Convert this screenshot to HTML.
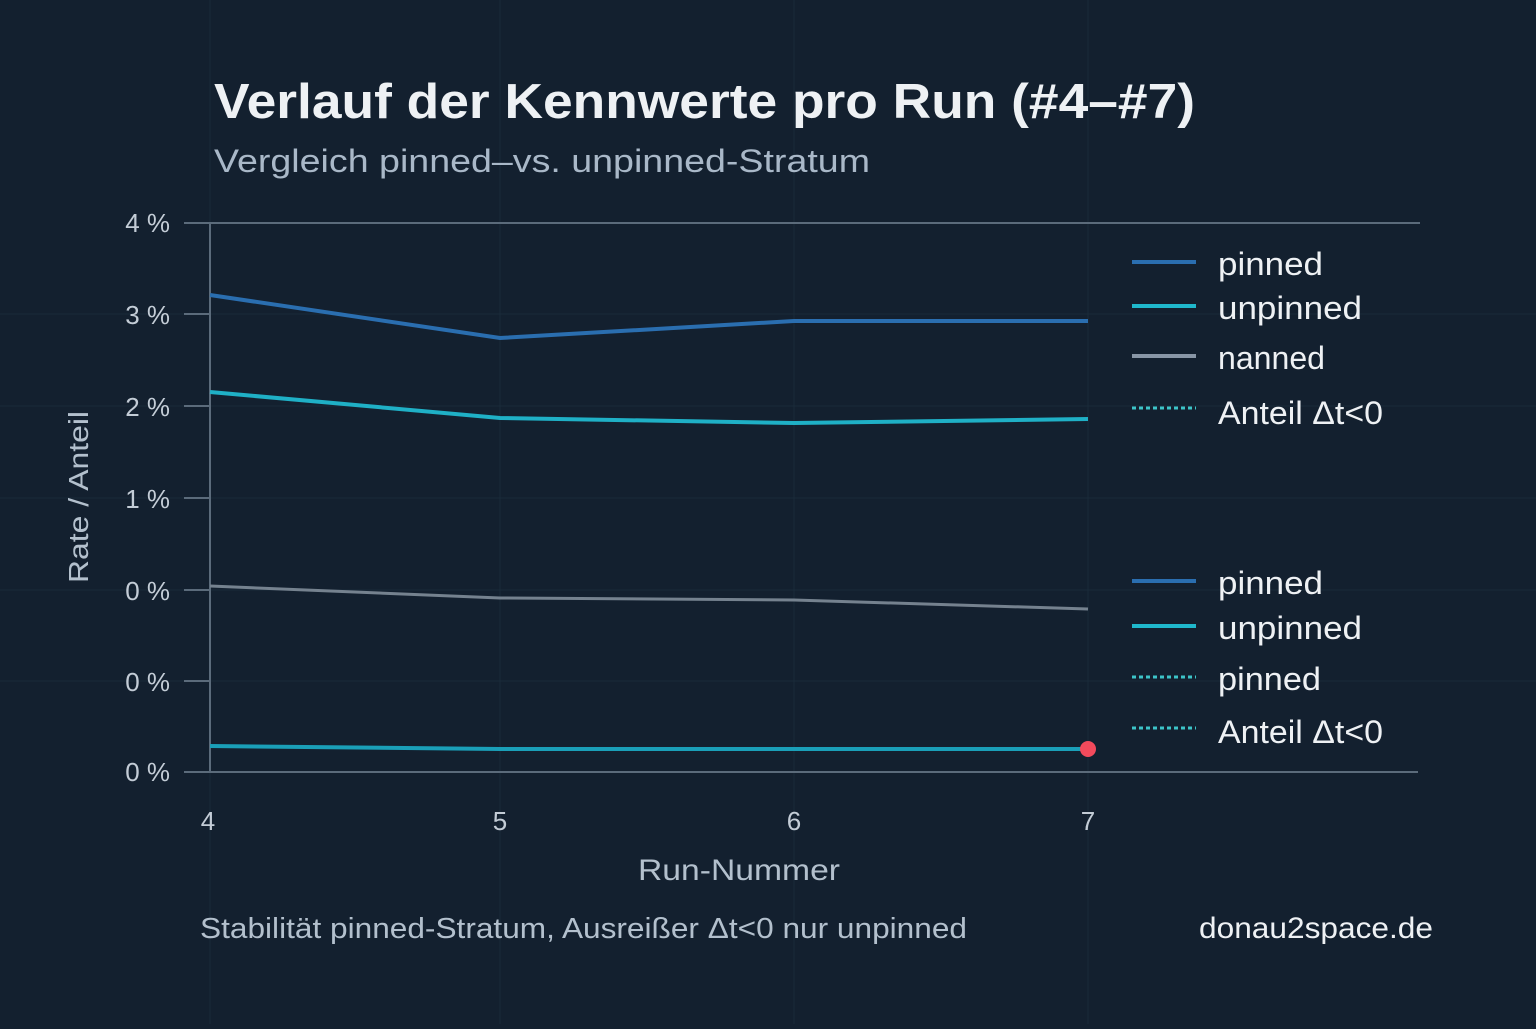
<!DOCTYPE html>
<html><head><meta charset="utf-8"><style>
html,body{margin:0;padding:0;background:#13202f;}
body{width:1536px;height:1024px;overflow:hidden;font-family:"Liberation Sans","DejaVu Sans",sans-serif;}
</style></head><body>
<svg width="1536" height="1024" viewBox="0 0 1536 1024" xmlns="http://www.w3.org/2000/svg">
<rect width="1536" height="1024" fill="#13202f"/>
<g stroke="#1a2a3a" stroke-width="1">
<line x1="210" y1="0" x2="210" y2="1024"/><line x1="500" y1="0" x2="500" y2="1024"/>
<line x1="794" y1="0" x2="794" y2="1024"/><line x1="1088" y1="0" x2="1088" y2="1024"/>
<line x1="0" y1="314" x2="1536" y2="314"/><line x1="0" y1="406" x2="1536" y2="406"/>
<line x1="0" y1="498" x2="1536" y2="498"/><line x1="0" y1="590" x2="1536" y2="590"/>
<line x1="0" y1="681" x2="1536" y2="681"/>
</g>
<text x="214" y="118" fill="#eef1f4" font-size="49" font-weight="bold" textLength="981" lengthAdjust="spacingAndGlyphs">Verlauf der Kennwerte pro Run (#4–#7)</text>
<text x="214" y="172" fill="#a9b8c8" font-size="32" textLength="656" lengthAdjust="spacingAndGlyphs">Vergleich pinned–vs. unpinned-Stratum</text>
<line x1="184" y1="223" x2="1420" y2="223" stroke="#5b6b7b" stroke-width="2"/>
<line x1="210" y1="223" x2="210" y2="772" stroke="#5b6b7b" stroke-width="2"/>
<line x1="184" y1="772" x2="1418" y2="772" stroke="#5b6b7b" stroke-width="2"/>
<g stroke="#5b6b7b" stroke-width="2">
<line x1="184" y1="314" x2="210" y2="314"/><line x1="184" y1="406" x2="210" y2="406"/>
<line x1="184" y1="498" x2="210" y2="498"/><line x1="184" y1="590" x2="210" y2="590"/>
<line x1="184" y1="681" x2="210" y2="681"/>
</g>
<g fill="#c3ccd6" font-size="26" text-anchor="end">
<text x="170" y="232">4 %</text><text x="170" y="324">3 %</text><text x="170" y="416">2 %</text>
<text x="170" y="508">1 %</text><text x="170" y="600">0 %</text><text x="170" y="691">0 %</text><text x="170" y="781">0 %</text>
</g>
<g fill="#c3ccd6" font-size="26" text-anchor="middle">
<text x="208" y="830">4</text><text x="500" y="830">5</text><text x="794" y="830">6</text><text x="1088" y="830">7</text>
</g>
<text x="638" y="880" fill="#b3c0cd" font-size="30" textLength="202" lengthAdjust="spacingAndGlyphs">Run-Nummer</text>
<text transform="translate(88,497) rotate(-90)" fill="#b3c0cd" font-size="28" text-anchor="middle" textLength="172" lengthAdjust="spacingAndGlyphs">Rate / Anteil</text>
<polyline points="210,295 500,338 794,321 1088,321" fill="none" stroke="#2a6eb0" stroke-width="4"/>
<polyline points="210,392 500,418 794,423 1088,419" fill="none" stroke="#1fb0c6" stroke-width="4"/>
<polyline points="210,586 500,598 794,600 1088,609" fill="none" stroke="#75828f" stroke-width="3"/>
<polyline points="210,746 500,749 794,749 1088,749" fill="none" stroke="#1a9fb8" stroke-width="4"/>
<circle cx="1088" cy="749" r="8" fill="#f24a5c"/>
<g font-size="32" fill="#eef1f4">
<line x1="1132" y1="262" x2="1196" y2="262" stroke="#2a6eb0" stroke-width="4"/><text x="1218" y="275" textLength="105" lengthAdjust="spacingAndGlyphs">pinned</text>
<line x1="1132" y1="306" x2="1196" y2="306" stroke="#1fb8cc" stroke-width="4"/><text x="1218" y="319" textLength="144" lengthAdjust="spacingAndGlyphs">unpinned</text>
<line x1="1132" y1="356" x2="1196" y2="356" stroke="#8896a6" stroke-width="4"/><text x="1218" y="369" textLength="107" lengthAdjust="spacingAndGlyphs">nanned</text>
<line x1="1132" y1="408" x2="1196" y2="408" stroke="#3cc4c8" stroke-width="3" stroke-dasharray="4,3"/><text x="1218" y="424" textLength="165" lengthAdjust="spacingAndGlyphs">Anteil Δt&lt;0</text>
<line x1="1132" y1="581" x2="1196" y2="581" stroke="#2a6eb0" stroke-width="4"/><text x="1218" y="594" textLength="105" lengthAdjust="spacingAndGlyphs">pinned</text>
<line x1="1132" y1="626" x2="1196" y2="626" stroke="#1fb8cc" stroke-width="4"/><text x="1218" y="639" textLength="144" lengthAdjust="spacingAndGlyphs">unpinned</text>
<line x1="1132" y1="677" x2="1196" y2="677" stroke="#3cc4c8" stroke-width="3" stroke-dasharray="4,3"/><text x="1218" y="690" textLength="103" lengthAdjust="spacingAndGlyphs">pinned</text>
<line x1="1132" y1="728" x2="1196" y2="728" stroke="#3cc4c8" stroke-width="3" stroke-dasharray="4,3"/><text x="1218" y="743" textLength="165" lengthAdjust="spacingAndGlyphs">Anteil Δt&lt;0</text>
</g>
<text x="200" y="938" fill="#b3c0cd" font-size="29" textLength="767" lengthAdjust="spacingAndGlyphs">Stabilität pinned-Stratum, Ausreißer Δt&lt;0 nur unpinned</text>
<text x="1199" y="938" fill="#eef1f4" font-size="30" textLength="234" lengthAdjust="spacingAndGlyphs">donau2space.de</text>
</svg>
</body></html>
